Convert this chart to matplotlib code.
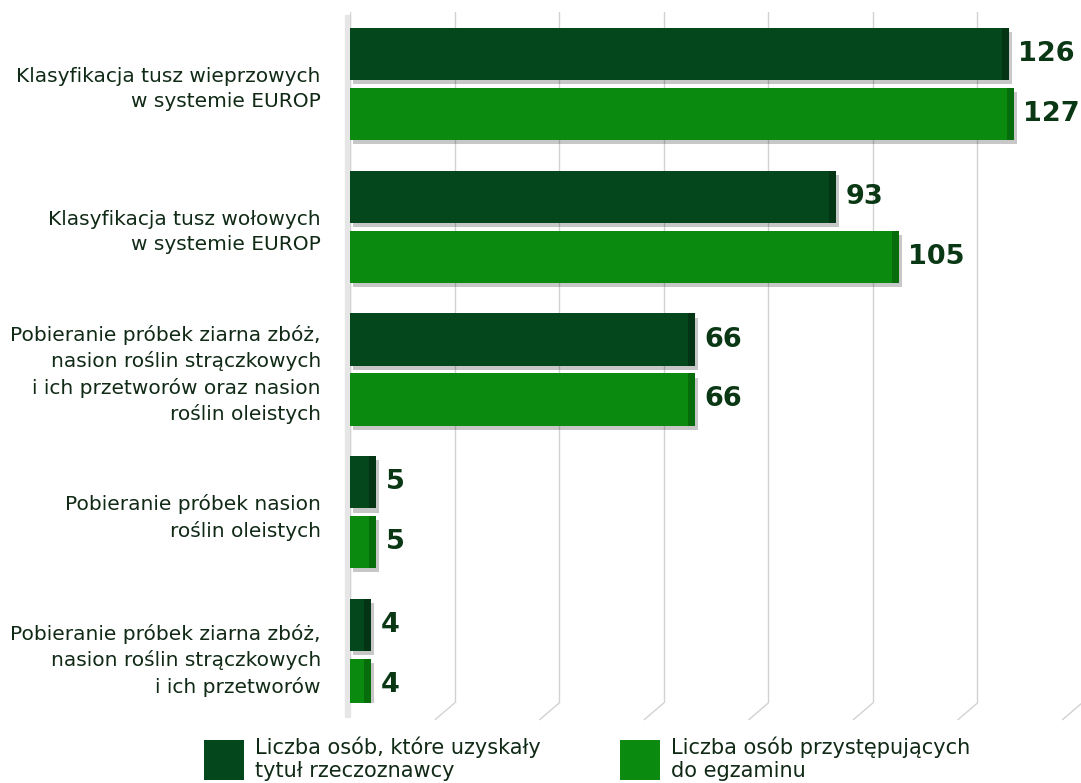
import numpy as np
import matplotlib
matplotlib.use("Agg")
import matplotlib.pyplot as plt
import matplotlib.patheffects as pe
from matplotlib.patches import Rectangle

# data
categories = [
    "Klasyfikacja tusz wieprzowych\nw systemie EUROP",
    "Klasyfikacja tusz wołowych\nw systemie EUROP",
    "Pobieranie próbek ziarna zbóż,\nnasion roślin strączkowych\ni ich przetworów oraz nasion\nroślin oleistych",
    "Pobieranie próbek nasion\nroślin oleistych",
    "Pobieranie próbek ziarna zbóż,\nnasion roślin strączkowych\ni ich przetworów",
]
passed = [126, 93, 66, 5, 4]
attended = [127, 105, 66, 5, 4]
series_names = [
    "Liczba osób, które uzyskały\ntytuł rzeczoznawcy",
    "Liczba osób przystępujących\ndo egzaminu",
]

DARK = "#05471d"
LIGHT = "#0a8a0e"
TXT = "#102a16"
NUM = "#0b3814"

fig = plt.figure(figsize=(10.81, 7.83), dpi=100)
ax = fig.add_axes([350 / 1081, 1 - 703 / 783, 732 / 1081, 691 / 783])

y = np.arange(len(categories))
h = 0.365
off = 0.21

shadow = [pe.SimplePatchShadow(offset=(2, -3), shadow_rgbFace="black", alpha=0.22), pe.Normal()]
b1 = ax.barh(y - off, passed, height=h, color=DARK, zorder=3, path_effects=shadow)
b2 = ax.barh(y + off, attended, height=h, color=LIGHT, zorder=3, path_effects=shadow)

# darker right face for the 3D look
side = 1.3
ax.barh(y - off, [side] * len(y), left=np.array(passed) - side, height=h,
        color="#033414", zorder=4)
ax.barh(y + off, [side] * len(y), left=np.array(attended) - side, height=h,
        color="#066d0a", zorder=4)

for vals, pos in ((passed, y - off), (attended, y + off)):
    for v, p in zip(vals, pos):
        ax.text(v + 1.8, p, str(v), va="center", ha="left", fontsize=19.5,
                fontweight="heavy", color=NUM, zorder=5)

ax.set_xlim(0, 140)
ax.set_ylim(len(categories) - 1 + 0.336, -0.504)
ax.set_xticks(range(0, 141, 20))
ax.grid(axis="x", color="#d2d2d2", lw=1, zorder=0)
ax.tick_params(length=0, labelbottom=False)
ax.set_yticks(y)
ax.set_yticklabels(categories, fontsize=14.5, color=TXT, linespacing=1.4)
ax.tick_params(axis="y", pad=21)
for s in ax.spines.values():
    s.set_visible(False)

# floor diagonals under the grid lines
for t in range(20, 141, 20):
    ax.annotate("", xy=(t, 0), xycoords=("data", "axes fraction"),
                xytext=(-14, -12), textcoords="offset points",
                arrowprops=dict(arrowstyle="-", color="#d2d2d2", lw=1,
                                shrinkA=0, shrinkB=0), annotation_clip=False)

# left wall
tr = ax.get_xaxis_transform()
ax.add_patch(Rectangle((-1.0, -0.02), 1.0, 1.015, transform=tr, color="#e6e6e6",
                       clip_on=False, zorder=1))

leg = fig.legend([b1, b2], series_names, loc="upper left",
                 bbox_to_anchor=(204 / 1081, 1 - 736 / 783), ncol=2, frameon=False,
                 fontsize=15, handlelength=1.9, handleheight=2.6,
                 handletextpad=0.55, columnspacing=3.8, borderpad=0, borderaxespad=0)
for t in leg.get_texts():
    t.set_color(TXT)
for hd in leg.legend_handles:
    hd.set_path_effects([])

fig.savefig("out.png", dpi=100)
